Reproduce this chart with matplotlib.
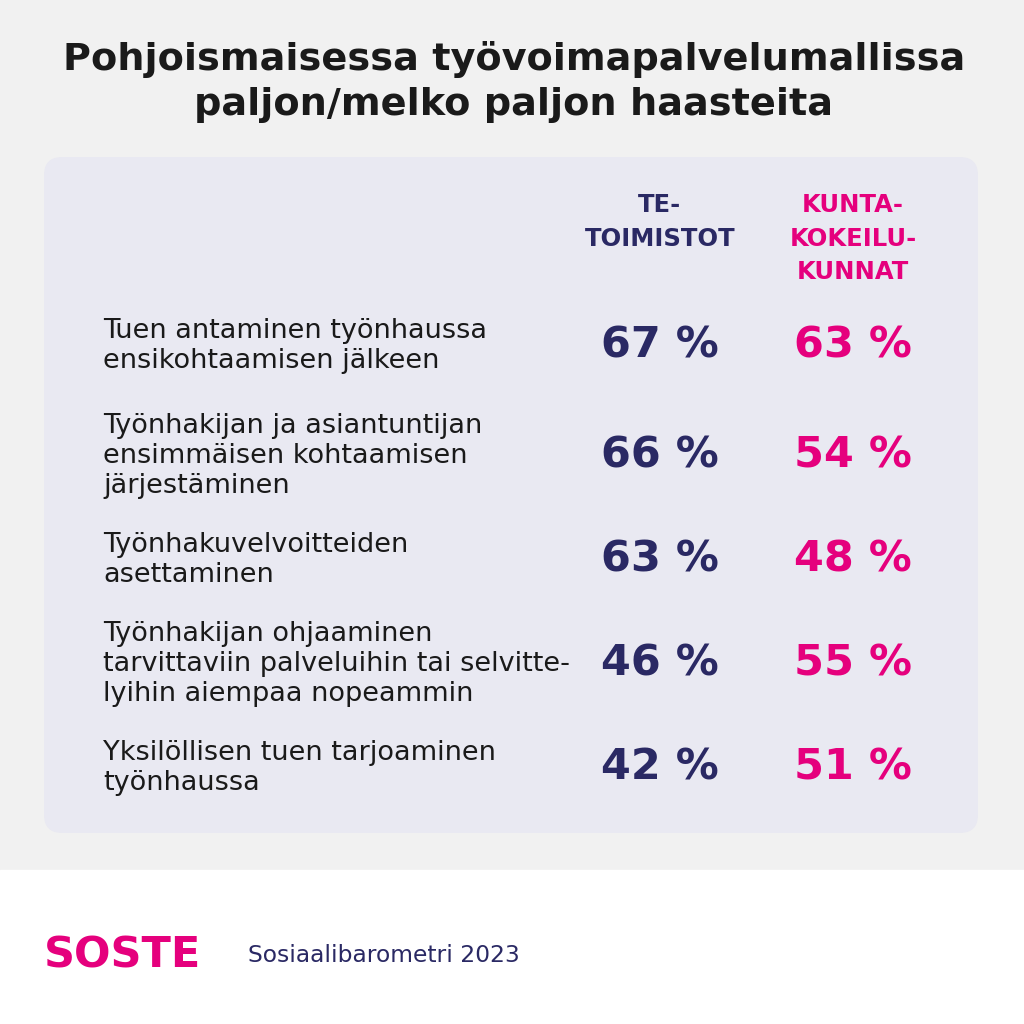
import matplotlib.pyplot as plt
from matplotlib.patches import FancyBboxPatch, Rectangle

# data
title = "Pohjoismaisessa työvoimapalvelumallissa\npaljon/melko paljon haasteita"
col_headers = ["TE-\nTOIMISTOT", "KUNTA-\nKOKEILU-\nKUNNAT"]
categories = [
    "Tuen antaminen työnhaussa\nensikohtaamisen jälkeen",
    "Työnhakijan ja asiantuntijan\nensimmäisen kohtaamisen\njärjestäminen",
    "Työnhakuvelvoitteiden\nasettaminen",
    "Työnhakijan ohjaaminen\ntarvittaviin palveluihin tai selvitte-\nlyihin aiempaa nopeammin",
    "Yksilöllisen tuen tarjoaminen\ntyönhaussa",
]
te_values = [67, 66, 63, 46, 42]
kunta_values = [63, 54, 48, 55, 51]
source = "Sosiaalibarometri 2023"

NAVY = "#2a2964"
PINK = "#e5007d"

plt.rcParams['font.family'] = ['DejaVu Sans']

fig = plt.figure(figsize=(10.24, 10.24), dpi=100, facecolor="#f1f1f1")
ax = fig.add_axes([0, 0, 1, 1])
ax.set_xlim(0, 1024)
ax.set_ylim(1024, 0)
ax.axis("off")

# white footer band
ax.add_patch(Rectangle((0, 870), 1024, 154, color="white", zorder=0))
# panel
ax.add_patch(FancyBboxPatch((44, 157), 934, 676, boxstyle="round,pad=0,rounding_size=18",
                            fc="#e9e9f2", ec="none", zorder=1))

ax.text(514, 82, title, ha="center", va="center", fontsize=27.5, fontweight="bold",
        color="#1a1a1a", linespacing=1.3)

col_x = [660, 853]
col_colors = [NAVY, PINK]
for x, h, c in zip(col_x, col_headers, col_colors):
    ax.text(x, 193, h, ha="center", va="top", fontsize=17.5, fontweight="bold",
            color=c, linespacing=1.5)

row_y = [346, 456, 560, 664, 768]
for y, cat, te, ku in zip(row_y, categories, te_values, kunta_values):
    ax.text(103, y, cat, ha="left", va="center", fontsize=19.5, color="#1a1a1a",
            linespacing=1.2)
    ax.text(col_x[0], y, f"{te} %", ha="center", va="center", fontsize=31,
            fontweight="bold", color=NAVY)
    ax.text(col_x[1], y, f"{ku} %", ha="center", va="center", fontsize=31,
            fontweight="bold", color=PINK)

ax.text(44, 955, "SOSTE", ha="left", va="center", fontsize=31, fontweight="bold",
        color=PINK)
ax.text(248, 955, source, ha="left", va="center", fontsize=16.8, color=NAVY)

fig.savefig("out.png", dpi=100, facecolor=fig.get_facecolor())
